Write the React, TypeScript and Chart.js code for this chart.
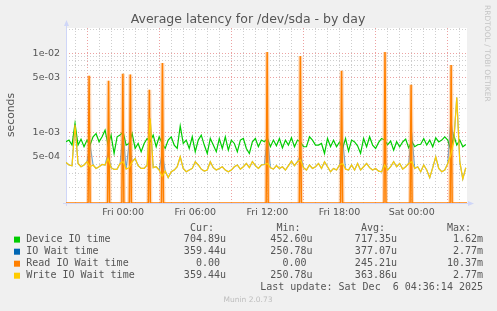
import React, { useEffect, useRef } from 'react';
import { Chart, registerables } from 'chart.js';

Chart.register(...registerables);

// ---- Text ----
const TITLE = 'Average latency for /dev/sda - by day';
const Y_TITLE = 'seconds';
const SIDE_TEXT = 'RRDTOOL / TOBI OETIKER';
const FOOTER = 'Munin 2.0.73';
const LAST_UPDATE = 'Last update: Sat Dec  6 04:36:14 2025';

// ---- X axis (hours relative to Fri 00:00) ----
const X_MIN = -4.75;
const X_MAX = 28.6;
const SAMPLE_START = -4.75;
const SAMPLE_STEP = 0.25; // hours between readings
const RRD_STEP = 1 / 12; // 5 minutes
const xGridHours = [-4, -3, -2, -1, 0, 1, 2, 3, 4, 5, 6, 7, 8, 9, 10, 11, 12, 13, 14, 15, 16, 17, 18, 19, 20, 21, 22, 23, 24, 25, 26, 27, 28];
const xMajorGridHours = [-3, 3, 9, 15, 21, 27];
const xLabelHours = [0, 6, 12, 18, 24];
const xLabels = ['Fri 00:00', 'Fri 06:00', 'Fri 12:00', 'Fri 18:00', 'Sat 00:00'];

// ---- Y axis (log) ----
const Y_MIN = 1.29e-4;
const Y_MAX = 2.08e-2;
const yGridValues = [2e-4, 3e-4, 4e-4, 5e-4, 6e-4, 7e-4, 8e-4, 9e-4, 1e-3, 2e-3, 3e-3, 4e-3, 5e-3, 6e-3, 7e-3, 8e-3, 9e-3, 1e-2, 2e-2];
const yLabelValues = [5e-4, 1e-3, 5e-3, 1e-2];
const yLabels = ['5e-04', '1e-03', '5e-03', '1e-02'];

// ---- Series (microseconds) ----
const deviceIO = [
  764, 802, 694, 1300, 694, 825, 661, 802, 694, 883,
  970, 764, 883, 1070, 694, 927, 544, 883, 927, 1020,
  694, 727, 970, 629, 727, 572, 727, 840, 764, 927,
  661, 883, 727, 629, 802, 883, 694, 629, 1210, 727,
  802, 629, 883, 572, 802, 927, 694, 544, 840, 694,
  572, 840, 629, 883, 600, 802, 727, 572, 802, 840,
  629, 544, 764, 840, 661, 802, 764, 840, 661, 802,
  680, 840, 640, 802, 694, 860, 661, 802, 760, 661,
  661, 883, 802, 694, 694, 727, 544, 840, 661, 800,
  660, 760, 629, 840, 583, 802, 760, 680, 544, 840,
  661, 883, 694, 629, 750, 840, 802, 700, 780, 600,
  764, 661, 760, 825, 640, 780, 661, 700, 710, 840,
  694, 802, 661, 855, 760, 802, 883, 802, 600, 927,
  694, 802, 661, 705,
];

const ioWait = [
  420, 389, 381, 1250, 407, 370, 389, 428, 700, 389,
  352, 370, 395, 389, 550, 360, 342, 345, 407, 1000,
  345, 720, 428, 470, 381, 352, 352, 389, 1500, 360,
  370, 336, 560, 326, 270, 320, 336, 370, 494, 352,
  320, 336, 352, 428, 389, 345, 326, 336, 428, 360,
  336, 352, 370, 336, 320, 336, 370, 389, 345, 370,
  407, 360, 428, 381, 352, 389, 395, 900, 360, 345,
  381, 352, 370, 336, 381, 436, 381, 428, 520, 360,
  336, 389, 352, 370, 407, 352, 428, 370, 320, 352,
  336, 389, 800, 345, 336, 389, 336, 407, 336, 370,
  407, 360, 336, 352, 326, 320, 420, 336, 370, 428,
  370, 407, 345, 370, 407, 1000, 352, 370, 320, 389,
  336, 270, 360, 494, 352, 320, 336, 407, 1470, 764,
  2770, 428, 260, 359,
];

const writeWait = [
  420, 389, 381, 1250, 407, 370, 389, 428, 370, 389,
  352, 370, 395, 389, 470, 360, 342, 345, 407, 428,
  345, 360, 428, 470, 381, 352, 352, 389, 1500, 360,
  370, 336, 280, 326, 270, 320, 336, 370, 494, 352,
  320, 336, 352, 428, 389, 345, 326, 336, 428, 360,
  336, 352, 370, 336, 320, 336, 370, 389, 345, 370,
  407, 360, 428, 381, 352, 389, 395, 407, 360, 345,
  381, 352, 370, 336, 381, 436, 381, 428, 449, 360,
  336, 389, 352, 370, 407, 352, 428, 370, 320, 352,
  336, 389, 407, 345, 336, 389, 336, 407, 336, 370,
  407, 360, 336, 352, 326, 320, 389, 336, 370, 428,
  370, 407, 345, 370, 407, 428, 352, 370, 320, 389,
  336, 270, 360, 494, 352, 320, 336, 407, 520, 764,
  2770, 428, 260, 359,
];

// Read IO wait: zero except short spikes (hour, seconds)
const READ_BASE = 0;
const readSpikeHours = [-2.83, -1.21, -0.02, 0.6, 2.18, 3.27, 11.98, 14.74, 18.17, 21.78, 23.95, 27.28];
const readSpikePeaks = [5.2e-3, 4.5e-3, 5.5e-3, 5.4e-3, 3.45e-3, 7.5e-3, 10.37e-3, 9.25e-3, 6.0e-3, 10.37e-3, 4.0e-3, 7.1e-3];

// ---- Legend ----
const legendNames = ['Device IO time', 'IO Wait time', 'Read IO Wait time', 'Write IO Wait time'];
const legendColors = ['#00cc00', '#0066b3', '#ff8000', '#ffcc00'];
const legendHeaders = ['Cur:', 'Min:', 'Avg:', 'Max:'];
const legendCur = ['704.89u', '359.44u', '0.00 ', '359.44u'];
const legendMin = ['452.60u', '250.78u', '0.00 ', '250.78u'];
const legendAvg = ['717.35u', '377.07u', '245.21u', '363.86u'];
const legendMax = ['1.62m', '2.77m', '10.37m', '2.77m'];

const US = 1e-6;
// a log axis cannot show 0: like rrdtool, draw it on the axis floor
const floorLog = (v: number) => (v > Y_MIN ? v : Y_MIN);

function toPoints(vals: number[]) {
  return vals.map((v, i) => ({ x: SAMPLE_START + i * SAMPLE_STEP, y: v * US }));
}

function readPoints() {
  const pts: { x: number; y: number | null }[] = [{ x: X_MIN, y: floorLog(READ_BASE) }];
  readSpikeHours.forEach((t, k) => {
    pts.push(
      { x: t - RRD_STEP, y: floorLog(READ_BASE) },
      { x: t, y: readSpikePeaks[k] },
      { x: t + RRD_STEP, y: floorLog(READ_BASE) },
    );
  });
  pts.push({ x: X_MAX, y: floorLog(READ_BASE) });
  return pts;
}

function glowPoints() {
  const pts: { x: number; y: number | null }[] = [];
  readSpikeHours.forEach((t, k) => {
    pts.push(
      { x: t - RRD_STEP, y: floorLog(READ_BASE) },
      { x: t, y: readSpikePeaks[k] },
      { x: t + RRD_STEP, y: floorLog(READ_BASE) },
      { x: t + RRD_STEP + 0.01, y: null },
    );
  });
  return pts;
}

const FONT = 'DejaVu Sans';
const MONO = 'DejaVu Sans Mono';
const TEXT_COLOR = '#555555';
const AXIS_COLOR = '#cfd6f8';
const MINOR_GRID = 'rgba(190,190,190,0.75)';
const MAJOR_GRID = 'rgba(230,130,130,0.75)';

const near = (a: number, b: number) => Math.abs(a - b) <= Math.abs(b) * 1e-6;

const muninPlugin = {
  id: 'muninDecor',
  beforeDraw(chart: any) {
    const { ctx, chartArea: a } = chart;
    ctx.save();
    ctx.fillStyle = '#f0f0f0';
    ctx.fillRect(0, 0, chart.width, chart.height);
    ctx.fillStyle = '#ffffff';
    ctx.fillRect(a.left, a.top, a.right - a.left, a.bottom - a.top);
    ctx.restore();
  },
  beforeDatasetsDraw(chart: any) {
    const { ctx, chartArea: a } = chart;
    ctx.save();
    ctx.strokeStyle = AXIS_COLOR;
    ctx.lineWidth = 1;
    ctx.beginPath();
    ctx.moveTo(a.left + 0.5, a.bottom + 3);
    ctx.lineTo(a.left + 0.5, a.top - 4);
    ctx.moveTo(a.left - 3, a.bottom + 0.5);
    ctx.lineTo(a.right + 3, a.bottom + 0.5);
    ctx.stroke();
    ctx.restore();
  },
  afterDraw(chart: any) {
    const { ctx, chartArea: a } = chart;
    ctx.save();
    // arrows
    ctx.fillStyle = AXIS_COLOR;
    ctx.beginPath();
    ctx.moveTo(a.left + 0.5, a.top - 8);
    ctx.lineTo(a.left - 2, a.top - 2);
    ctx.lineTo(a.left + 3, a.top - 2);
    ctx.closePath();
    ctx.fill();
    ctx.beginPath();
    ctx.moveTo(a.right + 7, a.bottom + 0.5);
    ctx.lineTo(a.right + 1, a.bottom - 2);
    ctx.lineTo(a.right + 1, a.bottom + 3);
    ctx.closePath();
    ctx.fill();

    // title
    ctx.fillStyle = TEXT_COLOR;
    ctx.textBaseline = 'middle';
    ctx.textAlign = 'center';
    ctx.font = `12.5px "${FONT}"`;
    ctx.fillText(TITLE, 248, 19.5);

    // y title
    ctx.save();
    ctx.translate(11.5, 115);
    ctx.rotate(-Math.PI / 2);
    ctx.font = `10.8px "${FONT}"`;
    ctx.fillText(Y_TITLE, 0, 0);
    ctx.restore();

    // side credit
    ctx.save();
    ctx.translate(487, 5);
    ctx.rotate(Math.PI / 2);
    ctx.textAlign = 'left';
    ctx.fillStyle = '#c4c4c4';
    ctx.font = `7.5px "${FONT}"`;
    ctx.fillText(SIDE_TEXT, 0, 0);
    ctx.restore();

    // legend
    ctx.font = `10px "${MONO}"`;
    const colEdges = [226, 312.5, 397, 483];
    ctx.textAlign = 'right';
    legendHeaders.forEach((h, c) => ctx.fillText(h, colEdges[c] - 12, 228));
    const rowY = [239.6, 251.7, 263.7, 275.7];
    legendNames.forEach((name, r) => {
      const y = rowY[r];
      ctx.fillStyle = legendColors[r];
      ctx.fillRect(14, y - 3, 6, 6);
      ctx.fillStyle = TEXT_COLOR;
      ctx.textAlign = 'left';
      ctx.fillText(name, 26.3, y);
      ctx.textAlign = 'right';
      [legendCur, legendMin, legendAvg, legendMax].forEach((col, c) => {
        ctx.fillText(col[r], colEdges[c], y);
      });
    });
    ctx.fillText(LAST_UPDATE, 483, 287.5);

    ctx.textAlign = 'center';
    ctx.fillStyle = '#bdbdbd';
    ctx.font = `7.5px "${FONT}"`;
    ctx.fillText(FOOTER, 248, 300);
    ctx.restore();
  },
};

export default function App() {
  const canvasRef = useRef<HTMLCanvasElement | null>(null);

  useEffect(() => {
    const canvas = canvasRef.current;
    if (!canvas) return;
    const lineBase = { pointRadius: 0, tension: 0, fill: false, spanGaps: false };
    const chart = new Chart(canvas, {
      type: 'line',
      data: {
        datasets: [
          { ...lineBase, label: legendNames[0], data: toPoints(deviceIO), borderColor: legendColors[0], borderWidth: 1.2, order: 5 },
          { ...lineBase, label: legendNames[1], data: toPoints(ioWait), borderColor: 'rgba(0,102,179,0.55)', borderWidth: 1.2, order: 4 },
          { ...lineBase, label: 'glow', data: glowPoints(), borderColor: 'rgba(255,150,60,0.35)', borderWidth: 4, order: 3 },
          { ...lineBase, label: legendNames[2], data: readPoints(), borderColor: legendColors[2], borderWidth: 1.5, order: 2 },
          { ...lineBase, label: legendNames[3], data: toPoints(writeWait), borderColor: legendColors[3], borderWidth: 1.2, order: 1 },
        ] as any,
      },
      options: {
        animation: false,
        responsive: false,
        maintainAspectRatio: false,
        layout: { padding: { left: 0, right: 30, top: 28, bottom: 88 } },
        plugins: { legend: { display: false }, tooltip: { enabled: false }, title: { display: false } },
        scales: {
          x: {
            type: 'linear',
            min: X_MIN,
            max: X_MAX,
            afterBuildTicks: (s: any) => {
              s.ticks = xGridHours.map((v) => ({ value: v }));
            },
            afterFit: (s: any) => {
              s.height = 20;
            },
            grid: {
              drawTicks: false,
              lineWidth: 1,
              color: (c: any) => (c.tick && xMajorGridHours.includes(c.tick.value) ? MAJOR_GRID : MINOR_GRID),
            },
            border: { display: false, dash: [1, 2] },
            ticks: {
              autoSkip: false,
              maxRotation: 0,
              padding: 4,
              color: TEXT_COLOR,
              font: { family: FONT, size: 9.5 },
              callback: (v: any) => {
                const k = xLabelHours.indexOf(Number(v));
                return k >= 0 ? xLabels[k] : '';
              },
            },
          },
          y: {
            type: 'logarithmic',
            min: Y_MIN,
            max: Y_MAX,
            afterBuildTicks: (s: any) => {
              s.ticks = yGridValues.map((v) => ({ value: v }));
            },
            afterFit: (s: any) => {
              s.width = 66;
            },
            grid: {
              drawTicks: false,
              lineWidth: 1,
              color: (c: any) => (c.tick && yLabelValues.some((v) => near(c.tick.value, v)) ? MAJOR_GRID : MINOR_GRID),
            },
            border: { display: false, dash: [1, 2] },
            ticks: {
              autoSkip: false,
              padding: 6,
              color: TEXT_COLOR,
              font: { family: FONT, size: 9.5 },
              callback: (v: any) => {
                const k = yLabelValues.findIndex((lv) => near(Number(v), lv));
                return k >= 0 ? yLabels[k] : '';
              },
            },
          },
        },
      } as any,
      plugins: [muninPlugin],
    });
    return () => chart.destroy();
  }, []);

  return (
    <div style={{ position: 'absolute', left: 0, top: 0, width: 497, height: 311, background: '#f0f0f0' }}>
      <canvas ref={canvasRef} width={497} height={311} style={{ display: 'block', width: 497, height: 311 }} />
    </div>
  );
}
